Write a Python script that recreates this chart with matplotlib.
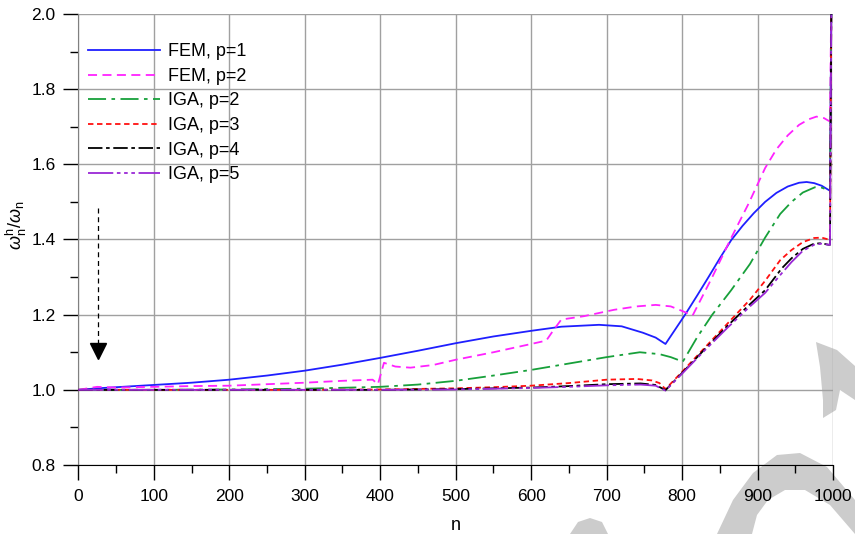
import numpy as np
import matplotlib
matplotlib.use("Agg")
import matplotlib.pyplot as plt
from matplotlib.ticker import MultipleLocator
from matplotlib.patches import Polygon
from matplotlib.transforms import Affine2D

plt.rcParams["font.family"] = ["Liberation Sans", "DejaVu Sans"]
plt.rcParams["mathtext.fontset"] = "custom"
plt.rcParams["mathtext.rm"] = "Liberation Sans"
plt.rcParams["mathtext.it"] = "Liberation Sans:italic"

# normalised discrete frequency ratio vs mode number
n_fem1 = [0, 25, 50, 100, 150, 200, 250, 300, 350, 400, 450, 500, 550, 600, 640, 690,
          720, 748, 765, 778, 790, 804, 820, 835, 850, 865, 880, 895, 910, 925, 940,
          955, 965, 975, 985, 994, 996, 998]
w_fem1 = [1.000, 1.004, 1.007, 1.013, 1.019, 1.027, 1.038, 1.051, 1.067, 1.085, 1.104,
          1.124, 1.142, 1.157, 1.168, 1.173, 1.169, 1.152, 1.139, 1.122, 1.158, 1.200,
          1.251, 1.300, 1.350, 1.398, 1.436, 1.470, 1.500, 1.524, 1.541, 1.551, 1.553,
          1.550, 1.543, 1.532, 1.530, 2.1]

n_fem2 = [0, 25, 50, 100, 150, 200, 250, 300, 350, 390, 397, 405, 420, 440, 470, 500,
          550, 600, 620, 630, 640, 670, 710, 740, 765, 785, 800, 814, 840, 864, 888, 910,
          925, 940, 955, 968, 978, 988, 994, 996, 998]
w_fem2 = [1.000, 1.008, 1.006, 1.008, 1.010, 1.011, 1.015, 1.019, 1.024, 1.027, 1.015,
          1.072, 1.062, 1.059, 1.066, 1.080, 1.100, 1.122, 1.131, 1.160, 1.187, 1.196,
          1.213, 1.222, 1.226, 1.222, 1.210, 1.198, 1.300, 1.400, 1.495, 1.590, 1.640,
          1.677, 1.705, 1.720, 1.727, 1.723, 1.716, 1.714, 2.1]

n_iga2 = [0, 100, 200, 300, 400, 450, 500, 550, 600, 650, 700, 744, 770, 785, 801, 820,
          840, 865, 890, 910, 930, 945, 960, 976, 985, 994, 996, 998]
w_iga2 = [1.000, 1.000, 1.001, 1.003, 1.008, 1.014, 1.024, 1.038, 1.053, 1.070, 1.087,
          1.100, 1.095, 1.087, 1.075, 1.140, 1.200, 1.265, 1.335, 1.405, 1.468, 1.500,
          1.525, 1.539, 1.538, 1.531, 1.530, 2.1]

n_iga3 = [0, 100, 200, 300, 400, 500, 550, 600, 650, 700, 740, 760, 770, 778, 800, 830,
          860, 890, 910, 930, 945, 960, 975, 985, 994, 996, 998]
w_iga3 = [1.000, 1.000, 1.000, 1.000, 1.001, 1.004, 1.007, 1.011, 1.018, 1.027, 1.029,
          1.025, 1.018, 1.002, 1.048, 1.112, 1.176, 1.240, 1.290, 1.345, 1.372, 1.393,
          1.404, 1.405, 1.400, 1.399, 2.1]

n_iga45 = [0, 100, 200, 300, 400, 500, 600, 650, 700, 745, 765, 778, 800, 830, 860, 890,
           910, 932, 945, 960, 975, 985, 994, 996, 998]
w_iga4 = [1.000, 1.000, 1.000, 1.000, 1.000, 1.002, 1.006, 1.010, 1.015, 1.017, 1.013,
          0.999, 1.045, 1.108, 1.170, 1.228, 1.265, 1.323, 1.350, 1.375, 1.389, 1.390,
          1.386, 1.386, 2.1]
w_iga5 = [1.000, 1.000, 1.000, 1.000, 1.000, 1.001, 1.005, 1.008, 1.012, 1.014, 1.011,
          0.998, 1.043, 1.105, 1.165, 1.222, 1.258, 1.310, 1.340, 1.370, 1.386, 1.389,
          1.386, 1.386, 2.1]

labels = ["FEM, p=1", "FEM, p=2", "IGA, p=2", "IGA, p=3", "IGA, p=4", "IGA, p=5"]

# dashed arrow marking the increase of n
arrow_n = 26
arrow_top = 1.485
arrow_head = 1.103

fig = plt.figure(figsize=(8.55, 5.34), dpi=100)
ax = fig.add_axes([0.0916, 0.1292, 0.8827, 0.8446])
ax.patch.set_alpha(0)

# light grey logo shapes behind the axes (pixel coords, y measured from top)
H = 534
logo = [
    [(816, 342), (837, 350), (855, 366), (855, 400), (840, 390), (836, 410),
     (823, 418), (823, 400), (820, 367)],
    [(717, 534), (733, 500), (753, 473), (777, 455), (800, 453), (827, 467),
     (855, 500), (855, 534), (830, 505), (805, 490), (785, 490), (768, 500),
     (757, 515), (752, 534)],
    [(570, 534), (578, 522), (590, 518), (602, 522), (608, 534)],
]
flip = Affine2D().scale(1, -1).translate(0, H)
for pts in logo:
    fig.patches.append(Polygon(pts, closed=True, facecolor="#cccccc", edgecolor="none",
                               transform=flip, zorder=-1))

series = [
    (n_fem1, w_fem1, "#1f1fff", "-"),
    (n_fem2, w_fem2, "#ff22ff", (0, (5, 3))),
    (n_iga2, w_iga2, "#17a03a", (0, (10, 3, 2, 3))),
    (n_iga3, w_iga3, "#ff1010", (0, (3, 2))),
    (n_iga45, w_iga4, "#000000", (0, (8, 2, 2, 2))),
    (n_iga45, w_iga5, "#9a28d6", (0, (14, 2, 2, 2, 2, 2, 2, 2))),
]
for (x, y, c, ls), lab in zip(series, labels):
    ax.plot(x, y, color=c, ls=ls, lw=1.3, label=lab, zorder=3)

ax.plot([arrow_n, arrow_n], [arrow_top, arrow_head + 0.02], color="black",
        ls=(0, (4, 3)), lw=0.9, zorder=3)
ax.plot([arrow_n], [arrow_head], marker="v", color="black", markersize=11, zorder=3)

ax.set_xlim(0, 1000)
ax.set_ylim(0.8, 2.0)
ax.xaxis.set_major_locator(MultipleLocator(100))
ax.xaxis.set_minor_locator(MultipleLocator(50))
ax.yaxis.set_major_locator(MultipleLocator(0.2))
ax.yaxis.set_minor_locator(MultipleLocator(0.1))
ax.yaxis.set_major_formatter(plt.FormatStrFormatter("%.1f"))

ax.grid(True, which="major", color="#a0a0a0", lw=1.0, zorder=1)
for s in ["top", "right"]:
    ax.spines[s].set_visible(False)
ax.spines["left"].set_color("#808080")
ax.spines["bottom"].set_color("black")
ax.tick_params(which="major", direction="out", length=10.8, width=1.0, labelsize=12.5,
               color="black")
ax.tick_params(which="minor", direction="out", length=5.5, width=1.0, color="black")
ax.tick_params(axis="y", which="major", pad=5.5)
ax.tick_params(axis="x", which="major", pad=6.5)

ax.set_xlabel("n", fontsize=13, labelpad=9)
ax.set_ylabel(r"$\omega_{\rm n}^{\rm h}/\omega_{\rm n}$", fontsize=13)
ax.yaxis.set_label_coords(-0.066, 0.532)

ax.legend(loc="upper left", bbox_to_anchor=(0.013, 0.935), frameon=False, fontsize=13,
          handlelength=4.0, handletextpad=0.4, labelspacing=0.42, borderpad=0,
          borderaxespad=0)

fig.savefig("out.png", dpi=100)
